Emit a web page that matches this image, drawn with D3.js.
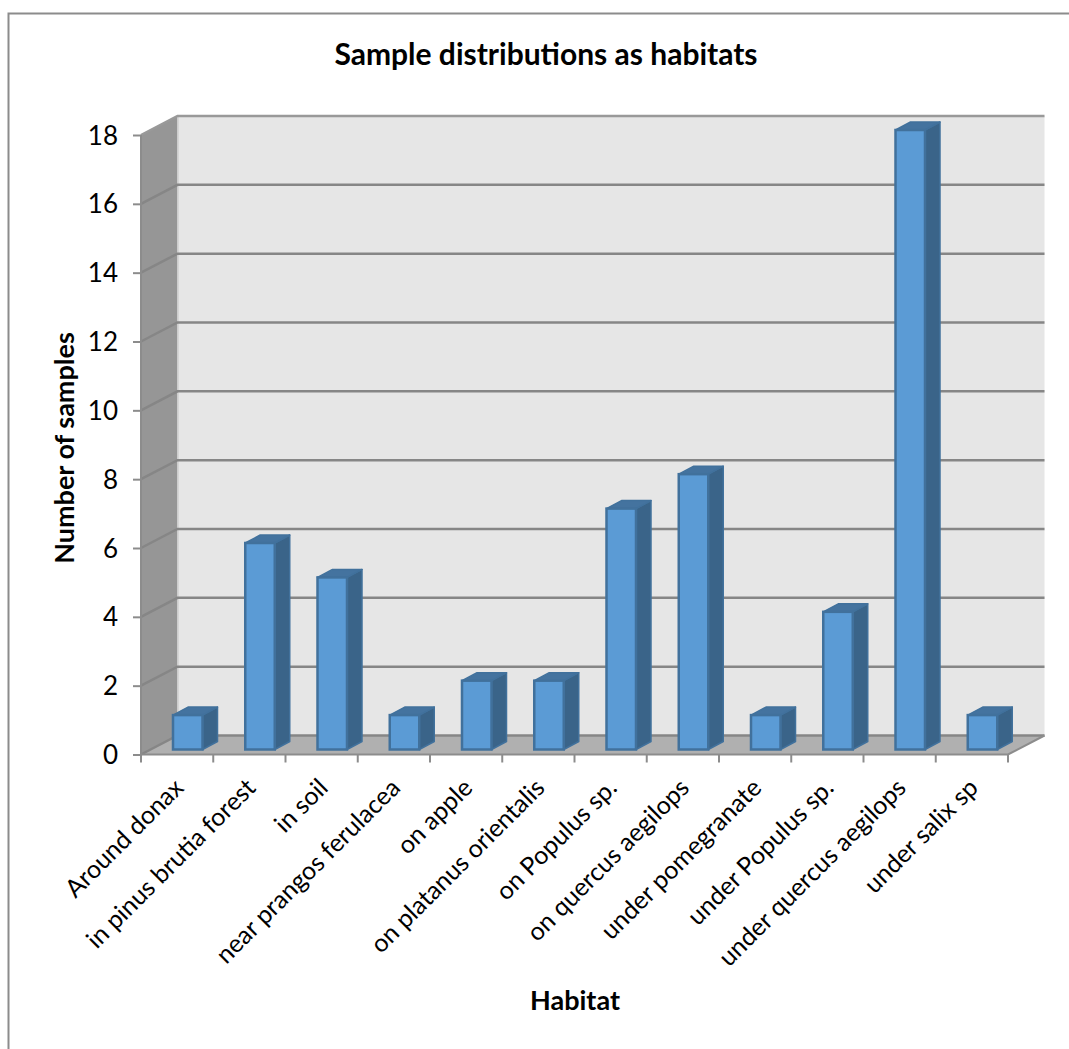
<!DOCTYPE html>
<html>
<head>
<meta charset="utf-8">
<style>
  html, body { margin: 0; padding: 0; background: #fff; }
  svg { display: block; }
  text { font-family: Lato, "Open Sans", sans-serif; fill: #000; }
</style>
<script src="https://cdn.jsdelivr.net/npm/d3@7"></script>
</head>
<body>
<script>
// habitat categories and sample counts
var habitats = [
  "Around donax", "in pinus brutia forest", "in soil", "near prangos ferulacea",
  "on apple", "on platanus orientalis", "on Populus sp.", "on quercus aegilops",
  "under pomegranate", "under Populus sp.", "under quercus aegilops", "under salix sp"
];
var samples = [1, 6, 5, 1, 2, 2, 7, 8, 1, 4, 18, 1];
var yTicks = [0, 2, 4, 6, 8, 10, 12, 14, 16, 18];

var chartTitle = "Sample distributions as habitats";
var xTitle = "Habitat";
var yTitle = "Number of samples";

var width = 1069, height = 1049;

// fake 3d: the back wall sits up and to the right of the front plane
var depthX = 36.5, depthY = -19;
var barDepthX = 15, barDepthY = -8;
var barOffset = 32, barWidth = 29.5, barLift = 5;

var x = d3.scaleBand().domain(habitats).range([141, 1008]);
var y = d3.scaleLinear().domain([0, 18]).range([754.5, 135]);

var svg = d3.select("body").append("svg")
  .attr("width", width)
  .attr("height", height);

// chart frame, only top and left show
svg.append("path")
  .attr("d", d3.line()([[8.5, height], [8.5, 13.5], [width, 13.5]]))
  .attr("fill", "none")
  .attr("stroke", "#8c8c8c")
  .attr("stroke-width", 2);

var x0 = x.range()[0], x1 = x.range()[1];
var line = d3.line();

// walls
svg.append("path")
  .attr("d", line([[x0 + depthX, y(18) + depthY], [x1 + depthX, y(18) + depthY], [x1 + depthX, y(0) + depthY], [x0 + depthX, y(0) + depthY]]) + "Z")
  .attr("fill", "#e6e6e6");
svg.append("path")
  .attr("d", line([[x0, y(18)], [x0 + depthX, y(18) + depthY], [x0 + depthX, y(0) + depthY], [x0, y(0)]]) + "Z")
  .attr("fill", "#969696");
svg.append("path")
  .attr("d", line([[x0, y(0)], [x0 + depthX, y(0) + depthY], [x1 + depthX, y(0) + depthY], [x1, y(0)]]) + "Z")
  .attr("fill", "#b0b0b0");

// light edge between side wall and back wall
svg.append("line")
  .attr("x1", x0 + depthX + 0.5).attr("x2", x0 + depthX + 0.5)
  .attr("y1", y(18) + depthY).attr("y2", y(0) + depthY)
  .attr("stroke", "#d0d0d0")
  .attr("stroke-width", 1.5);

// gridlines run along the side wall then along the back wall
svg.append("g").selectAll("path")
  .data(yTicks)
  .enter().append("path")
  .attr("d", function (d) {
    return line([[x0, y(d)], [x0 + depthX, y(d) + depthY], [x1 + depthX, y(d) + depthY]]);
  })
  .attr("fill", "none")
  .attr("stroke", function (d) { return d === 18 ? "#999999" : "#868686"; })
  .attr("stroke-width", 2.5);

// floor front edge and left edge of side wall
svg.append("path")
  .attr("d", line([[x0, y(18)], [x0, y(0)], [x1, y(0)], [x1 + depthX, y(0) + depthY]]))
  .attr("fill", "none")
  .attr("stroke", "#8c8c8c")
  .attr("stroke-width", 2);

// bars
var bars = svg.append("g").selectAll("g")
  .data(samples)
  .enter().append("g");

function barLeft(d, i) { return x(habitats[i]) + barOffset; }

// side face
bars.append("path")
  .attr("d", function (d, i) {
    var l = barLeft(d, i) + barWidth, t = y(d) - barLift, b = y(0) - barLift;
    return line([[l, t], [l + barDepthX, t + barDepthY], [l + barDepthX, b + barDepthY], [l, b]]) + "Z";
  })
  .attr("fill", "#3a6489")
  .attr("stroke", "#41719c")
  .attr("stroke-width", 1.5)
  .attr("stroke-linejoin", "round");

// top face
bars.append("path")
  .attr("d", function (d, i) {
    var l = barLeft(d, i), t = y(d) - barLift;
    return line([[l, t], [l + barDepthX, t + barDepthY], [l + barWidth + barDepthX, t + barDepthY], [l + barWidth, t]]) + "Z";
  })
  .attr("fill", "#44739f")
  .attr("stroke", "#41719c")
  .attr("stroke-width", 1.5)
  .attr("stroke-linejoin", "round");

// front face
bars.append("rect")
  .attr("x", barLeft)
  .attr("y", function (d) { return y(d) - barLift; })
  .attr("width", barWidth)
  .attr("height", function (d) { return y(0) - y(d); })
  .attr("fill", "#5b9bd5")
  .attr("stroke", "#41719c")
  .attr("stroke-width", 2.5);

// y axis
var yAxis = svg.append("g")
  .attr("transform", "translate(" + x0 + ",0)")
  .call(d3.axisLeft(y).tickValues(yTicks).tickSize(8).tickPadding(15));
yAxis.select(".domain").remove();
yAxis.selectAll("line").attr("stroke", "#8c8c8c").attr("stroke-width", 2);
yAxis.selectAll("text").attr("dy", "0.35em").style("font-size", "26px").style("font-family", "Lato").attr("fill", "#000");

// x axis, tick marks sit between the categories
var xAxis = svg.append("g")
  .attr("transform", "translate(0," + y(0) + ")")
  .call(d3.axisBottom(x).tickSize(0).tickPadding(0));
xAxis.select(".domain").remove();
xAxis.selectAll("text")
  .attr("text-anchor", "end")
  .attr("transform", "translate(-1,26) rotate(-45)")
  .attr("dy", "0.5em")
  .style("font-size", "25px")
  .style("font-family", "Lato")
  .attr("fill", "#000");

svg.append("g").selectAll("line")
  .data(habitats.concat(["end"]))
  .enter().append("line")
  .attr("x1", function (d, i) { return x0 + i * x.step(); })
  .attr("x2", function (d, i) { return x0 + i * x.step(); })
  .attr("y1", y(0))
  .attr("y2", y(0) + 8)
  .attr("stroke", "#8c8c8c")
  .attr("stroke-width", 2);

// titles
svg.append("text")
  .attr("x", 546).attr("y", 65)
  .attr("text-anchor", "middle")
  .style("font-size", "30px")
  .style("font-weight", "bold")
  .text(chartTitle);

svg.append("text")
  .attr("x", 575).attr("y", 1010)
  .attr("text-anchor", "middle")
  .style("font-size", "27px")
  .style("font-weight", "bold")
  .text(xTitle);

svg.append("text")
  .attr("transform", "translate(74,448) rotate(-90)")
  .attr("text-anchor", "middle")
  .style("font-size", "27px")
  .style("font-weight", "bold")
  .text(yTitle);
</script>
</body>
</html>
